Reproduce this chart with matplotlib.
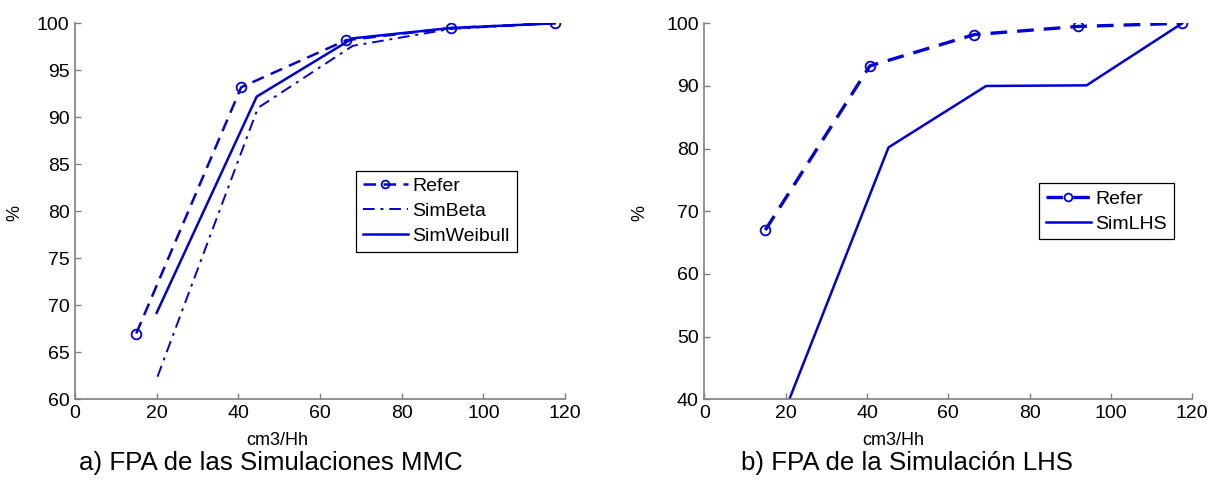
import matplotlib
matplotlib.use("Agg")
import matplotlib.pyplot as plt

plt.rcParams['font.family'] = ['Liberation Sans', 'DejaVu Sans']

# ---- data ----
x_refer = [15.0, 40.7, 66.4, 92.0, 117.5]
y_refer = [67.0, 93.2, 98.2, 99.5, 100.0]

x_beta = [20.2, 44.8, 68.0, 92.0, 117.5]
y_beta = [62.4, 91.0, 97.6, 99.4, 100.0]

x_weib = [20.0, 44.5, 68.0, 92.0, 117.5]
y_weib = [69.2, 92.2, 98.4, 99.5, 100.0]

x_lhs = [20.0, 45.3, 69.3, 94.0, 117.5]
y_lhs = [38.5, 80.2, 90.0, 90.1, 100.0]

xticks = [0, 20, 40, 60, 80, 100, 120]
yticks_a = [60, 65, 70, 75, 80, 85, 90, 95, 100]
yticks_b = [40, 50, 60, 70, 80, 90, 100]

xlabel = "cm3/Hh"
ylabel = "%"
caption_a = "a) FPA de las Simulaciones MMC"
caption_b = "b) FPA de la Simulación LHS"

BLUE = '#0000dd'
SPINE = '#808080'

fig = plt.figure(figsize=(12.17, 4.84), dpi=100)
ax1 = fig.add_axes([75/1217, 1-399.3/484, 490/1217, 376/484])
ax2 = fig.add_axes([704.3/1217, 1-399.3/484, 488/1217, 376/484])


def style(ax, yticks, xl_x, yl_x):
    ax.set_xlim(0, 120)
    ax.set_ylim(yticks[0], yticks[-1])
    ax.set_xticks(xticks)
    ax.set_yticks(yticks)
    for s in ['top', 'right']:
        ax.spines[s].set_visible(False)
    for s in ['left', 'bottom']:
        ax.spines[s].set_color(SPINE)
        ax.spines[s].set_linewidth(1.2)
    ax.tick_params(direction='in', length=4, width=1, color=SPINE,
                   labelsize=14, pad=4)
    ax.set_xlabel(xlabel, fontsize=13)
    ax.set_ylabel(ylabel, fontsize=13)
    ax.xaxis.set_label_coords(xl_x, -0.109)
    ax.xaxis.label.set_va('center')
    ax.yaxis.set_label_coords(yl_x, 0.495)
    ax.yaxis.label.set_va('center')


style(ax1, yticks_a, 0.412, -0.122)
style(ax2, yticks_b, 0.387, -0.133)

refer_kw = dict(color=BLUE, lw=1.8, marker='o', markersize=7,
                markerfacecolor='none', markeredgewidth=1.3, dashes=(5, 3))

l1, = ax1.plot(x_refer, y_refer, label='Refer', **refer_kw)
l2, = ax1.plot(x_beta, y_beta, label='SimBeta', color=BLUE, lw=1.4,
               dashes=(6, 3, 1.5, 3))
l3, = ax1.plot(x_weib, y_weib, label='SimWeibull', color=BLUE, lw=1.8)

m1, = ax2.plot(x_refer, y_refer, label='Refer', **{**refer_kw, 'lw': 2.4})
m2, = ax2.plot(x_lhs, y_lhs, label='SimLHS', color=BLUE, lw=1.8)

leg_kw = dict(loc='upper left', fontsize=14, frameon=True, fancybox=False,
              edgecolor='black', framealpha=1, borderaxespad=0,
              handlelength=2.3, handletextpad=0.25, borderpad=0.35,
              labelspacing=0.37, markerscale=0.8)
lg1 = fig.legend(handles=[l1, l2, l3], bbox_to_anchor=(356/1217, 1-170.7/484),
                 **leg_kw)
lg2 = fig.legend(handles=[m1, m2], bbox_to_anchor=(1039/1217, 1-183.3/484),
                 **leg_kw)
for lg in (lg1, lg2):
    lg.get_frame().set_linewidth(0.9)

fig.text(271/1217, 1-463/484, caption_a, ha='center', va='center',
         fontsize=18.6)
fig.text(907/1217, 1-463/484, caption_b, ha='center', va='center',
         fontsize=18.6)

fig.savefig('out.png', dpi=100)
